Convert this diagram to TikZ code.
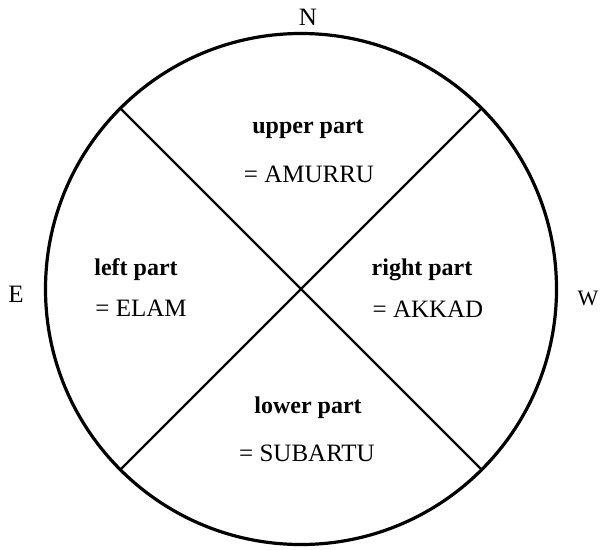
\documentclass[tikz,border=0pt]{standalone}
\usepackage{fontspec}
\setmainfont{Liberation Serif}
\usetikzlibrary{calc}
\tikzset{
  lbl/.style={anchor=base, inner sep=0pt, font=\fontsize{24}{28}\selectfont\bfseries},
  nm/.style={anchor=base, inner sep=0pt, font=\fontsize{25}{29}\selectfont},
  dir/.style={anchor=base, inner sep=0pt, font=\fontsize{25}{29}\selectfont},
  ring/.style={line width=3.2pt},
  divider/.style={line width=2.2pt}
}
\begin{document}
\begin{tikzpicture}[x=1pt,y=-1pt]
\useasboundingbox (0,0) rectangle (601,549);
\coordinate (c) at (301,289);
\draw[ring] (c) circle[radius=255.5];
\coordinate (p1) at ($(c)+(45:255.5)$);
\coordinate (p2) at ($(c)+(135:255.5)$);
\coordinate (p3) at ($(c)+(225:255.5)$);
\coordinate (p4) at ($(c)+(315:255.5)$);
\draw[divider] (p1) -- (p3);
\draw[divider] (p2) -- (p4);
\node[dir] (n) at (308,25) {N};
\node[dir] (e) at (16,302) {E};
\node[dir, font=\fontsize{22}{26}\selectfont] (w) at (588,305) {W};
\node[lbl] (up) at (308,133) {upper part};
\node[nm] (upn) at (309,182) {= AMURRU};
\node[lbl] (lp) at (136,275) {left part};
\node[nm] (lpn) at (141,316) {= ELAM};
\node[lbl] (rp) at (422,275) {right part};
\node[nm] (rpn) at (428,317) {= AKKAD};
\node[lbl] (bp) at (308,413) {lower part};
\node[nm] (bpn) at (307,461) {= SUBARTU};
\end{tikzpicture}
\end{document}
